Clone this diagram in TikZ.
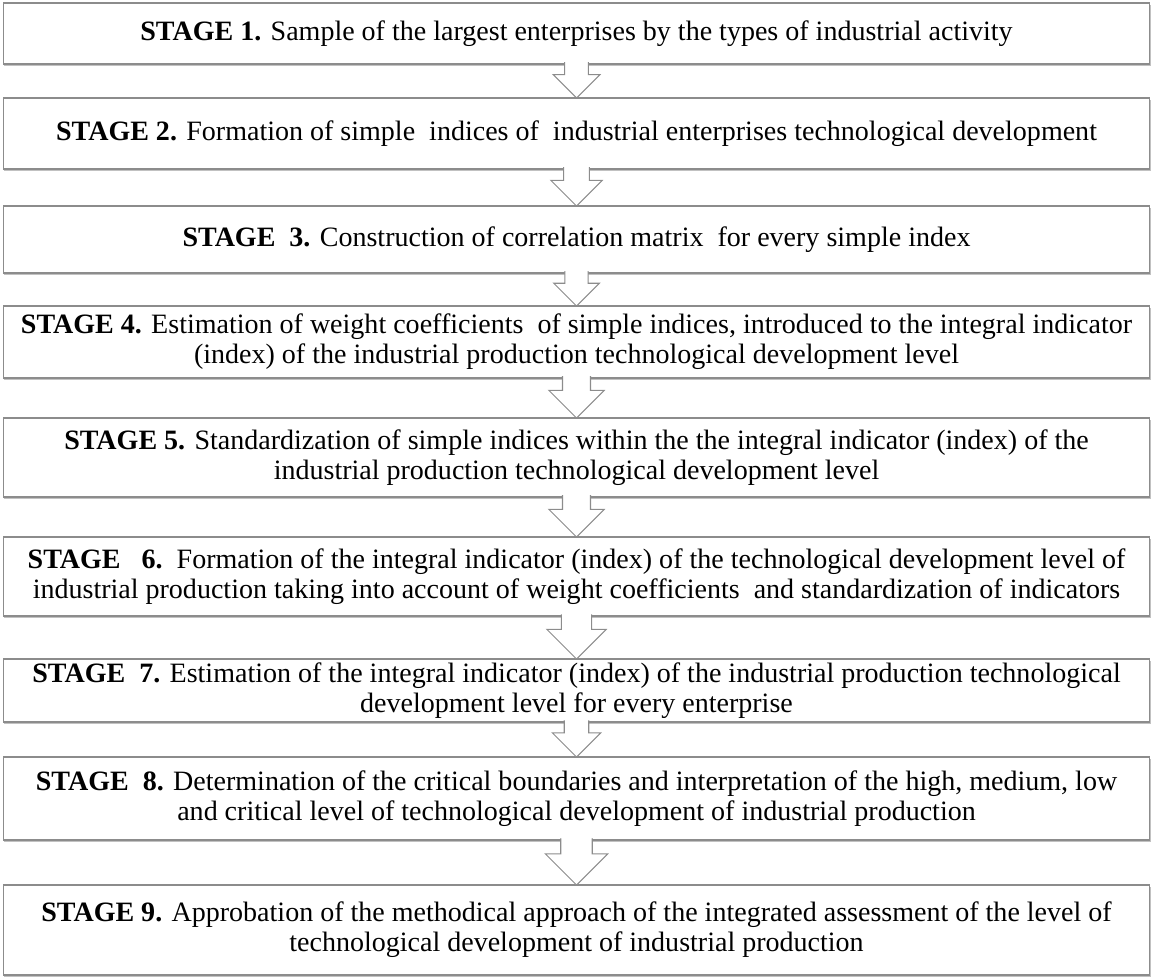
\documentclass[tikz,border=0pt]{standalone}
\usepackage{fontspec}
\setmainfont{Liberation Serif}
\usepackage{tikz}
\usetikzlibrary{calc, shadows}

\begin{document}
\begin{tikzpicture}
        [
          x=0.02cm, y=-0.02cm,
          stage/.style={draw=black!45, line width=0.6pt, fill=white, outer sep=0pt,
            minimum width=22.94cm, align=center, inner sep=2pt,
            font=\fontsize{15.95}{17.1}\selectfont,
            drop shadow={shadow xshift=0.6pt, shadow yshift=-1.4pt, opacity=0.35, fill=black!70}},
          hollow/.style={draw=black!45, line width=0.6pt, fill=white, line join=miter}
        ]
        \useasboundingbox (0,0) rectangle (1153,977);
        % stages
        \node [stage, minimum height=61*0.02cm] (s1) at (576.5,33.5)
          {\textbf{STAGE 1.} Sample of the largest enterprises by the types of industrial activity};
        \node [stage, minimum height=71*0.02cm] (s2) at (576.5,133.5)
          {\textbf{STAGE 2.} Formation of simple\ \ indices of\ \ industrial enterprises technological development};
        \node [stage, minimum height=67*0.02cm] (s3) at (576.5,239.5)
          {\textbf{STAGE\ \ 3.} Construction of correlation matrix\ \ for every simple index};
        \node [stage, minimum height=72*0.02cm] (s4) at (576.5,342)
          {\textbf{STAGE 4.} Estimation of weight coefficients\ \ of simple indices, introduced to the integral indicator\\
           (index) of the industrial production technological development level};
        \node [stage, minimum height=79*0.02cm] (s5) at (576.5,457.5)
          {\textbf{STAGE 5.} Standardization of simple indices within the the integral indicator (index) of the\\
           industrial production technological development level};
        \node [stage, minimum height=79*0.02cm] (s6) at (576.5,576.5)
          {\textbf{STAGE\ \ \ 6.}\ \ Formation of the integral indicator (index) of the technological development level of\\
           industrial production taking into account of weight coefficients\ \ and standardization of indicators};
        \node [stage, minimum height=63*0.02cm] (s7) at (576.5,690.5)
          {\textbf{STAGE\ \ 7.} Estimation of the integral indicator (index) of the industrial production technological\\
           development level for every enterprise};
        \node [stage, minimum height=83*0.02cm] (s8) at (576.5,798.5)
          {\textbf{STAGE\ \ 8.} Determination of the critical boundaries and interpretation of the high, medium, low\\
           and critical level of technological development of industrial production};
        \node [stage, minimum height=90*0.02cm] (s9) at (576.5,930)
          {\textbf{STAGE 9.} Approbation of the methodical approach of the integrated assessment of the level of\\
           technological development of industrial production};
        % block arrows
        \foreach \a/\b in {s1/s2,s2/s3,s3/s4,s4/s5,s5/s6,s6/s7,s7/s8,s8/s9} {
            \draw [hollow] let \p1=(\a.south), \p2=(\b.north), \n1={\y1-\y2} in
            (\x1-0.35*\n1,\y1+1) -- (\x1-0.35*\n1,\y1-0.31*\n1) -- (\x1-0.69*\n1,\y1-0.31*\n1)
            -- (\x1,\y2) -- (\x1+0.69*\n1,\y1-0.31*\n1) -- (\x1+0.35*\n1,\y1-0.31*\n1) -- (\x1+0.35*\n1,\y1+1);
        }
      \end{tikzpicture}
\end{document}
